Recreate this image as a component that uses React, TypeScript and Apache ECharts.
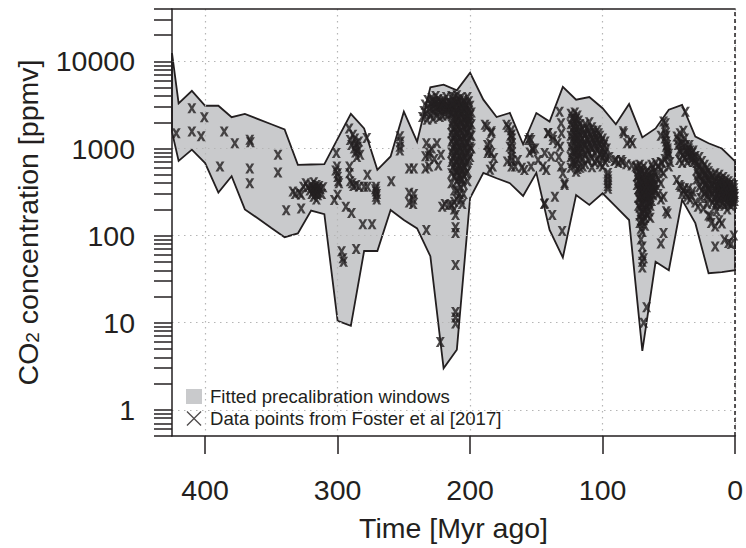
import React, { useEffect, useRef } from "react";
import * as echarts from "echarts";

// ---------- axis ticks ----------
const xTickValues = [0, 100, 200, 300, 400];
const yLabelValues = [1, 10, 100, 1000, 10000];
const yTickValues = [
  0.5, 0.6, 0.7, 0.8, 0.9, 1, 2, 3, 4, 5, 6, 7, 8, 9, 10, 20, 30, 40, 50, 60, 70, 80, 90,
  100, 200, 300, 400, 500, 600, 700, 800, 900, 1000, 2000, 3000, 4000, 5000, 6000, 7000,
  8000, 9000, 10000, 20000, 30000, 40000,
];

// ---------- fitted precalibration windows (Myr ago, ppmv) ----------
const windowTimes = [
  425, 420, 410, 400, 390, 380, 370, 360, 350, 340, 330, 320, 310, 300, 290, 280, 270, 260,
  250, 240, 230, 220, 210, 200, 190, 180, 170, 160, 150, 140, 130, 120, 110, 100, 90, 80,
  70, 60, 50, 40, 30, 20, 10, 0,
];
const windowUpper = [
  12500, 3300, 4600, 3100, 3100, 2290, 2500, 2180, 1900, 1660, 650, 655, 660, 1290, 2500,
  1700, 570, 810, 2650, 1200, 5050, 5400, 4650, 7400, 3640, 2300, 2560, 1120, 2560, 2040,
  5100, 3640, 3900, 2900, 1900, 3240, 1340, 1700, 2790, 3170, 1370, 1150, 1000, 710,
];
const windowLower = [
  1550, 720, 970, 680, 312, 480, 200, 157, 122, 96, 106, 194, 176, 10.5, 9.2, 66.6, 66.6,
  197, 151, 121, 58, 3.0, 4.9, 270, 525, 456, 400, 285, 525, 116, 56, 293, 225, 306, 215,
  151, 4.75, 50, 40, 257, 139, 37, 38, 40,
];

// ---------- data points from Foster et al [2017] (Myr ago, ppmv) ----------
const fosterDevonianCarboniferous = [
  [421.8, 1500], [410, 2900], [410, 1570], [403, 1380], [400.6, 2290], [388.8, 620],
  [385.6, 1570], [377.6, 1150], [366.3, 1260], [365.8, 1180], [366.3, 590], [366.3, 400],
  [345, 850], [345, 530], [338.8, 195], [333.8, 320], [332, 300], [329, 310], [327.5, 295],
  [327.5, 205], [325.8, 365], [324, 400], [322.5, 360], [321, 330], [320, 380], [319.5, 300],
  [319, 350], [318.5, 320], [318, 280], [318, 410], [317.5, 360], [317, 340], [316.5, 300],
  [316, 380], [316, 260], [315.5, 330], [315, 350], [315, 290], [314.5, 310], [314, 370],
  [313, 340], [312, 300], [311, 360],
];
const fosterPermianTriassic = [
  [301, 890], [300.5, 620], [300, 520], [299.5, 420], [300, 470], [299, 400], [300, 295],
  [302.5, 257], [301.5, 560], [297, 66], [296, 55], [295.5, 50], [291.3, 1700], [290.5, 1250],
  [289.5, 1100], [288.5, 1440], [287.5, 1000], [287, 1300], [286.5, 900], [286, 1150],
  [285.5, 800], [285, 1050], [284.5, 950], [284, 1200], [283, 850], [278, 1320], [291, 620],
  [291, 520], [290.5, 420], [289, 400], [288, 370], [286, 380], [283.8, 365], [293.8, 215],
  [289.5, 182], [286, 70], [277.5, 500], [277.5, 365], [280, 365], [281, 135], [274, 135],
  [271.5, 340], [271, 280], [271, 320], [271, 365], [270.5, 300], [270.5, 260], [259.5, 420],
  [253, 1380], [253, 1050], [253, 950], [252.5, 1200], [246, 590], [242.5, 590], [246, 310],
  [242.5, 300], [246, 240], [243, 260], [243, 230],
];
const fosterLateTriassic = [
  [233.7, 815], [231, 815], [233.7, 590], [231, 620], [233, 116], [232.5, 2140],
  [236, 2300], [235, 2700], [234, 3200], [233, 2500], [232, 3600], [231, 2900], [230, 3300],
  [230, 2400], [229, 3800], [229, 2800], [228, 3100], [228, 2200], [227, 3500], [227, 2600],
  [226, 4000], [226, 3000], [225, 2400], [225, 3400], [224, 2800], [224, 3700], [223, 3100],
  [223, 2300], [222, 3500], [222, 2700], [221, 3200], [221, 2400], [220, 3600], [220, 2900],
  [219, 2500], [219, 3300], [218, 2800], [218, 3900], [217, 3100], [217, 2400], [216, 2700],
  [216, 3400], [215, 3000], [214, 2600], [233, 1150], [231, 900], [229, 1000], [227, 760],
  [225, 1150], [224, 640], [222, 850], [221, 215], [222.5, 6.0], [219, 230], [216, 225],
  [228.5, 3500], [226.5, 3300], [224.5, 3100], [222.5, 3000], [220.5, 3300], [218.5, 3100],
  [216.5, 2900],
];
const fosterTriassicJurassicBoundary = [
  [214, 4000], [214, 3200], [214, 2500], [214, 1900], [214, 1500], [214, 1200], [214, 900],
  [214, 700], [214, 520], [214, 400], [214, 225],
  [213, 3600], [213, 2800], [213, 2100], [213, 1650], [213, 1300], [213, 1000], [213, 780], [213, 600],
  [212, 3900], [212, 3000], [212, 2300], [212, 1750], [212, 1400], [212, 1100], [212, 850],
  [212, 650], [212, 480], [212, 330], [212, 245], [212, 200],
  [211, 3400], [211, 2600], [211, 2000], [211, 1550], [211, 1200], [211, 950], [211, 720],
  [211, 560], [211, 172], [211, 125], [211, 107], [211, 46], [211, 13.3], [211, 11.5], [211, 9.8],
  [210, 4100], [210, 3300], [210, 2700], [210, 2200], [210, 1800], [210, 1450], [210, 1150],
  [210, 900], [210, 700], [210, 540], [210, 420], [210, 330], [210, 260],
  [209, 3700], [209, 2900], [209, 2300], [209, 1850], [209, 1500], [209, 1200], [209, 950],
  [209, 750], [209, 580], [209, 450],
  [208, 3500], [208, 2800], [208, 2200], [208, 1700], [208, 1350], [208, 1050], [208, 820],
  [208, 640], [208, 500], [208, 300],
  [207, 3800], [207, 3100], [207, 2500], [207, 2000], [207, 1600], [207, 1250], [207, 980],
  [207, 760], [207, 590], [207, 460], [207, 360], [207, 260],
  [206, 3300], [206, 2600], [206, 2000], [206, 1550], [206, 1200], [206, 930], [206, 720],
  [206, 560], [206, 440], [206, 230],
  [205, 3600], [205, 2900], [205, 2300], [205, 1800], [205, 1400], [205, 1100], [205, 850],
  [205, 650], [205, 500], [205, 390], [205, 300],
  [204, 3400], [204, 2700], [204, 2100], [204, 1650], [204, 1300], [204, 1000], [204, 780], [204, 600],
  [203, 3200], [203, 2500], [203, 1950], [203, 1500], [203, 1150], [203, 880], [203, 680], [203, 520],
  [202, 3900], [202, 3000], [202, 2400], [202, 1900], [202, 1500], [202, 1150], [202, 900],
  [202, 700], [202, 540], [202, 420],
  [201, 3500], [201, 2700], [201, 2100], [201, 1600], [201, 1250], [201, 950], [201, 740],
  [200, 3100], [200, 2400], [200, 1800], [200, 1400], [200, 1050], [200, 800],
  [199, 2600], [199, 1900], [199, 1400], [199, 1000],
  [213.5, 3300], [212.5, 2600], [210.5, 3000], [208.5, 2500], [206.5, 2900], [204.5, 3000],
  [203.5, 2200], [201.5, 2300], [200.5, 2000],
];
const fosterJurassicCretaceous = [
  [188.8, 1870], [187.5, 1780], [183.8, 1580], [184, 1510], [187, 1100], [185, 1150],
  [186, 950], [184, 890], [182, 780], [186.7, 890], [183, 620], [185, 570], [172.5, 1870],
  [171.3, 1750], [169, 1620], [168.7, 1450], [168.5, 1300], [168.5, 1150], [168.5, 1000],
  [168.5, 900], [168.7, 800], [168.5, 720], [168.7, 620], [169.5, 1400], [170, 1050],
  [172, 710], [166, 620], [164, 740], [161, 600], [159, 565], [155, 1320], [154, 1250],
  [153, 1000], [151, 1000], [152.5, 960], [148.7, 740], [142.5, 565], [144, 230], [141, 1510],
  [138, 173], [137.5, 1380], [141.3, 1500], [137.5, 1250], [143.7, 890], [138.8, 810],
  [145, 620], [131.3, 620], [128.7, 400], [136, 280], [143.7, 235], [132.5, 2650],
  [131.3, 1950], [131, 1500], [134, 1150], [132, 1050], [133, 800], [130, 520], [130.5, 113],
  [128.7, 380], [156, 1250], [155, 900], [154, 620],
];
const fosterCretaceous = [
  [124, 2500], [124, 1900], [124, 1400], [124, 1050], [124, 800], [124, 600],
  [122, 2300], [122, 1750], [122, 1300], [122, 950], [122, 720],
  [121, 2600], [121, 2000], [121, 1500], [121, 1150], [121, 870], [121, 650],
  [120, 2200], [120, 1650], [120, 1250], [120, 930], [120, 700], [120, 540],
  [119, 2400], [119, 1800], [119, 1350], [119, 1000], [119, 760], [119, 580],
  [118, 2100], [118, 1550], [118, 1150], [118, 860],
  [117, 1900], [117, 1400], [117, 1050], [117, 780], [117, 600],
  [115, 1700], [115, 1300], [115, 1000], [115, 780], [115, 620],
  [113, 1900], [113, 1450], [113, 1100], [113, 850], [113, 660],
  [111, 1600], [111, 1250], [111, 950], [111, 740],
  [110, 2000], [110, 1500], [110, 1150], [110, 880],
  [108, 1750], [108, 1300], [108, 1000], [108, 780], [108, 610],
  [106, 1500], [106, 1150], [106, 900], [106, 700],
  [104, 1620], [104, 1250], [104, 950], [104, 730],
  [102, 1400], [102, 1100], [102, 850], [102, 660],
  [100, 1300], [100, 1000], [100, 800], [100, 620],
  [98, 1200], [98, 900], [98, 700],
  [96, 525], [96, 480], [96, 440], [96, 400], [96, 370], [96, 345],
  [95, 800], [91, 720], [88, 680], [85, 700], [82, 660], [78, 640],
  [90, 740], [84, 1500], [84.5, 1580], [79, 1250], [81.5, 1150], [86, 740], [77.5, 1150],
  [123, 2200], [123, 1600], [123, 1200], [123, 900], [123, 680], [121.5, 1800], [120.5, 1400],
  [119.5, 1100], [118.5, 1300], [118.5, 950], [117.5, 1650], [116.5, 1200], [116, 900],
  [114, 1500], [114, 1150], [112, 1700], [112, 1300], [112, 1000], [109, 1400], [109, 1050],
  [107, 1600], [107, 1250], [105, 1350], [105, 1050], [103, 1500], [103, 1150], [101, 1200],
  [101, 900], [99, 1100], [99, 850], [97, 1000], [97, 780],
];
const fosterPaleogene = [
  [75, 620], [74, 600], [74, 480], [74, 380], [73, 550], [73, 430], [73, 340], [73, 270], [73, 220],
  [72, 650], [72, 500], [72, 400], [72, 320], [72, 260], [72, 210], [72, 170], [72, 140],
  [71, 580], [71, 460], [71, 370], [71, 300], [71, 240], [71, 190], [71, 150], [71, 120], [71, 90],
  [70, 540], [70, 430], [70, 350], [70, 280], [70, 230], [70, 180], [70, 145], [70, 110],
  [70, 75], [70, 60], [70, 50], [70, 43],
  [69, 620], [69, 480], [69, 380], [69, 300], [69, 240], [69, 190], [69, 150], [69, 55], [69, 10],
  [68, 520], [68, 410], [68, 330], [68, 260], [68, 200], [68, 160], [68, 130],
  [67, 470], [67, 370], [67, 290], [67, 230], [67, 180], [66.8, 15],
  [66, 560], [66, 440], [66, 350], [66, 270], [66, 210], [66, 170],
  [65, 500], [65, 390], [65, 300], [65, 240], [65, 190],
  [64, 460], [64, 360], [64, 280], [64, 220], [64, 160],
  [63, 650], [63, 520], [63, 400], [63, 310], [63, 250],
  [62, 600], [62, 460], [62, 360], [62, 290], [61, 540], [61, 420], [61, 330],
  [60, 680], [60, 500], [60, 380], [60, 335], [58, 620], [58, 450], [58, 300],
  [56, 560], [56, 400], [56, 81], [56, 260], [54, 520], [54, 107], [54, 280], [52, 190], [51, 180],
  [54, 2040], [53, 1700], [52.5, 1950], [52.5, 1510], [52, 1400], [52, 1200], [51.5, 1100],
  [51, 1000], [51, 900], [50.5, 810], [53, 1300], [52, 1050], [51, 950], [50, 870], [49, 700],
  [50, 620], [53, 760], [55, 680], [56, 1400], [56, 700],
  [44, 1370], [43, 1100], [42, 950], [41, 1200], [40, 1000], [39, 850], [38, 1300], [38, 780],
  [37, 1100], [36, 890], [36, 700], [35, 1000], [35, 800], [34, 950], [33, 740], [32, 900],
  [31, 700], [30, 820], [29, 680], [42, 740], [40, 680], [37.5, 2650], [41.6, 1500], [39, 1600],
  [44, 435], [42, 380], [40, 300], [38, 350], [36, 280], [34, 260], [32, 320], [30, 240],
  [28, 215], [26, 270], [24, 205], [41, 365], [39, 330], [37, 300], [35, 350], [33, 290],
  [73.5, 480], [72.5, 350], [71.5, 280], [70.5, 400], [69.5, 330], [68.5, 290], [67.5, 420],
  [66.5, 300], [65.5, 350], [64.5, 250], [63.5, 450], [62.5, 330], [61.5, 380], [43, 1250],
  [41, 900], [39.5, 1150], [37, 950], [35.5, 900], [34.5, 1100], [33.5, 850], [32.5, 780],
  [31.5, 950], [30.5, 750],
];
const fosterNeogene = [
  [29, 560], [29, 440], [27, 800], [27, 620], [27, 480], [27, 360],
  [25, 720], [25, 560], [25, 430], [25, 330], [23, 650], [23, 500], [23, 390], [23, 300],
  [21, 600], [21, 470], [21, 370], [21, 290], [21, 230], [20, 550], [20, 430], [20, 340],
  [20, 270], [20, 170], [18.7, 500], [18.7, 400], [18.7, 320], [18.7, 166], [18, 140],
  [17, 480], [17, 380], [17, 300], [17, 240], [15, 520], [15, 420], [15, 340], [15, 280],
  [15, 220], [15, 127], [15, 75], [14, 460], [14, 370], [14, 300], [14, 240], [14, 190],
  [13, 420], [13, 350], [13, 290], [13, 230], [12, 500], [12, 400], [12, 320], [12, 260],
  [12, 150], [11, 450], [11, 360], [11, 290], [11, 230], [10, 420], [10, 340], [10, 280],
  [10, 138], [9, 470], [9, 380], [9, 300], [9, 240], [8, 400], [8, 330], [8, 270], [8, 220],
  [8, 90], [7, 440], [7, 350], [7, 290], [6, 380], [6, 310], [6, 250], [6, 200], [5, 420],
  [5, 340], [5, 280], [5, 230], [5, 82], [4, 360], [4, 300], [4, 250], [3, 400], [3, 330],
  [3, 270], [3, 220], [3, 80], [2, 350], [2, 290], [2, 240], [1, 380], [1, 320], [1, 270],
  [1, 100], [0.5, 300], [0.5, 250],
  [28, 650], [28, 500], [26, 600], [26, 460], [24, 550], [24, 420], [22, 520], [22, 400],
  [22, 320], [19, 450], [19, 350], [16, 430], [16, 330], [16, 260], [13.5, 380], [11.5, 400],
  [10.5, 310], [9.5, 350], [8.5, 300], [7.5, 380], [7.5, 260], [6.5, 330], [5.5, 300],
  [4.5, 380], [4.5, 270], [3.5, 300], [2.5, 330], [2.5, 260], [1.5, 300], [1.5, 230],
  [0.8, 350], [0.3, 280],
];

const FONT = "'Liberation Sans', Arial, Helvetica, sans-serif";
const INK = "#231f20";
const BAND = "#c9cacc";
const X_MARK = "path://M0,0 L3.1,0 L5,2.9 L6.9,0 L10,0 L6.6,5 L10,10 L6.9,10 L5,7.1 L3.1,10 L0,10 L3.4,5 Z";
const X_THIN = "path://M0,1 L1,0 L8,7 L15,0 L16,1 L9,8 L16,15 L15,16 L8,9 L1,16 L0,15 L7,8 Z";

export default function App() {
  const ref = useRef<HTMLDivElement>(null);
  useEffect(() => {
    if (!ref.current) return;
    const chart = echarts.init(ref.current, null, { renderer: "svg" });
    const points = [
      ...fosterDevonianCarboniferous,
      ...fosterPermianTriassic,
      ...fosterLateTriassic,
      ...fosterTriassicJurassicBoundary,
      ...fosterJurassicCretaceous,
      ...fosterCretaceous,
      ...fosterPaleogene,
      ...fosterNeogene,
    ];
    const gridLine = { show: true, lineStyle: { color: "#b5b5b5", width: 1.2, type: [1.5, 4.5] } };
    chart.setOption({
      animation: false,
      backgroundColor: "#ffffff",
      textStyle: { fontFamily: FONT },
      grid: { left: 172, right: 8, top: 9, bottom: 112 },
      legend: {
        orient: "vertical",
        left: 186,
        top: 387,
        padding: 0,
        itemGap: 3,
        itemWidth: 16,
        itemHeight: 15,
        selectedMode: false,
        textStyle: { fontSize: 18.6, color: INK, fontFamily: FONT, padding: [0, 0, 0, 3] },
        data: [
          { name: "Fitted precalibration windows", icon: "rect", itemStyle: { color: BAND, borderWidth: 0 } },
          { name: "Data points from Foster et al [2017]", icon: X_THIN, itemStyle: { color: INK, borderWidth: 0 } },
        ],
      },
      xAxis: [
        {
          type: "value",
          min: 0,
          max: 425,
          inverse: true,
          z: 4,
          axisLine: { show: true, onZero: false, lineStyle: { color: INK, width: 1.5 } },
          axisTick: { show: true, length: 18, customValues: xTickValues, lineStyle: { color: INK, width: 1.5 } },
          axisLabel: { customValues: xTickValues, fontSize: 28.5, color: INK, fontFamily: FONT, margin: 39 },
          splitLine: gridLine,
          name: "Time [Myr ago]",
          nameLocation: "middle",
          nameGap: 77,
          nameTextStyle: { fontSize: 28.5, color: INK, fontFamily: FONT },
        },
        {
          type: "value",
          position: "top",
          min: 0,
          max: 425,
          inverse: true,
          z: 4,
          axisLine: { show: true, onZero: false, lineStyle: { color: INK, width: 1.5 } },
          axisTick: { show: false },
          axisLabel: { show: false },
          splitLine: { show: false },
        },
      ],
      yAxis: [
        {
          type: "log",
          logBase: 10,
          min: 0.5,
          max: 40000,
          z: 4,
          axisLine: { show: true, onZero: false, lineStyle: { color: INK, width: 1.5 } },
          axisTick: { show: true, length: 18, customValues: yTickValues, lineStyle: { color: INK, width: 1.5 } },
          axisLabel: {
            customValues: yLabelValues,
            fontSize: 28.5,
            color: INK,
            fontFamily: FONT,
            margin: 37,
            formatter: (v: number) => String(v),
          },
          splitLine: { show: false },
          name: "CO{sub|2} concentration [ppmv]",
          nameLocation: "middle",
          nameRotate: 90,
          nameGap: 130,
          nameTextStyle: {
            fontSize: 28.5,
            color: INK,
            fontFamily: FONT,
            rich: { sub: { fontSize: 19, color: INK, fontFamily: FONT, verticalAlign: "bottom" } },
          },
        },
        {
          type: "log",
          logBase: 10,
          min: 0.5,
          max: 40000,
          z: 4,
          position: "left",
          axisLine: { show: false },
          axisTick: { show: false, customValues: yLabelValues },
          axisLabel: { show: false, customValues: yLabelValues },
          splitLine: gridLine,
        },
      ],
      series: [
        {
          type: "custom",
          name: "Fitted precalibration windows",
          coordinateSystem: "cartesian2d",
          xAxisIndex: 0,
          yAxisIndex: 0,
          z: 1,
          silent: true,
          itemStyle: { color: BAND },
          data: [[0, 1]],
          renderItem: (_params: any, api: any) => {
            const pts: number[][] = [];
            for (let i = 0; i < windowTimes.length; i++) pts.push(api.coord([windowTimes[i], windowUpper[i]]));
            for (let i = windowTimes.length - 1; i >= 0; i--) pts.push(api.coord([windowTimes[i], windowLower[i]]));
            return {
              type: "polygon",
              shape: { points: pts },
              style: { fill: BAND, stroke: INK, lineWidth: 1.8, lineJoin: "miter" },
            };
          },
        },
        {
          type: "scatter",
          name: "Data points from Foster et al [2017]",
          xAxisIndex: 0,
          yAxisIndex: 0,
          z: 5,
          silent: true,
          symbol: X_MARK,
          symbolSize: [9, 10],
          itemStyle: { color: INK },
          data: points,
          markLine: {
            silent: true,
            symbol: ["none", "none"],
            label: { show: false },
            lineStyle: { color: INK, type: [4, 3], width: 1.5 },
            data: [{ xAxis: 0 }],
          },
        },
      ],
    });
    return () => chart.dispose();
  }, []);
  return (
    <div
      ref={ref}
      style={{ position: "fixed", left: 0, top: 0, width: 746, height: 548, background: "#fff" }}
    />
  );
}
